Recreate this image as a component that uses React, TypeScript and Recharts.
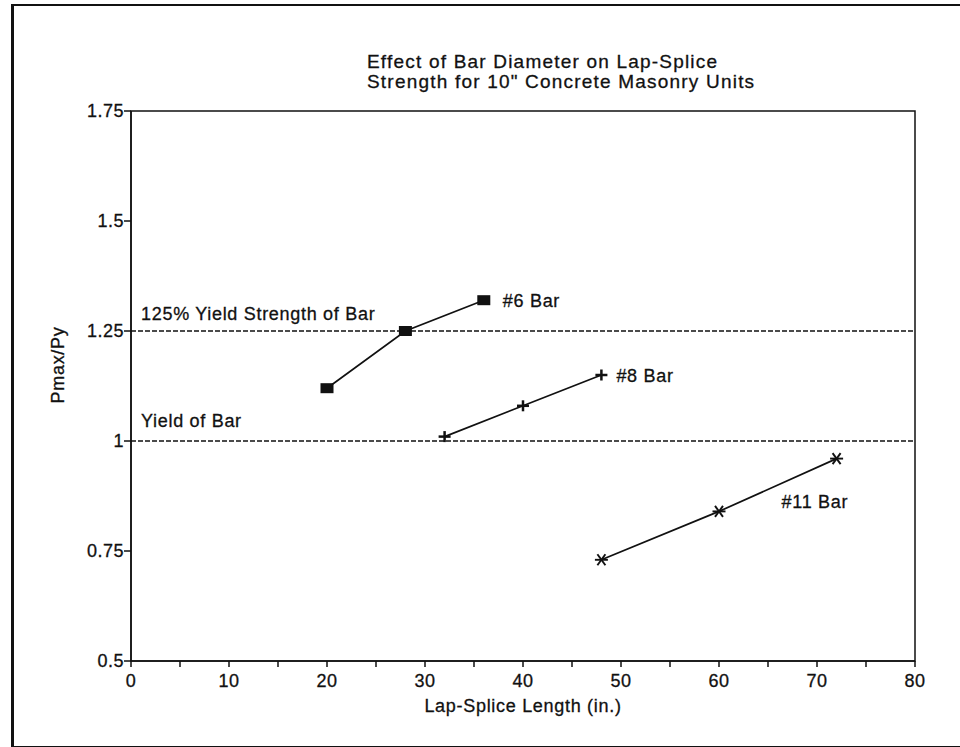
import { Line, LineChart, ReferenceArea, ReferenceLine, XAxis, YAxis } from 'recharts';

// lap-splice length (in.) and Pmax/Py for each bar size
const LENGTH_6 = [20, 28, 36];
const RATIO_6 = [1.12, 1.25, 1.32];
const LENGTH_8 = [32, 40, 48];
const RATIO_8 = [1.01, 1.08, 1.15];
const LENGTH_11 = [48, 60, 72];
const RATIO_11 = [0.73, 0.84, 0.96];

const X_TICKS = [0, 5, 10, 15, 20, 25, 30, 35, 40, 45, 50, 55, 60, 65, 70, 75, 80];
const Y_TICKS = [0.5, 0.75, 1, 1.25, 1.5, 1.75];

const YIELD = 1;
const YIELD_125 = 1.25;

const INK = '#111';
const FONT = '"Liberation Sans", Arial, Helvetica, sans-serif';

const toRows = (xs: number[], ys: number[]) => xs.map((x, i) => ({ x, y: ys[i] }));

const bar6 = toRows(LENGTH_6, RATIO_6);
const bar8 = toRows(LENGTH_8, RATIO_8);
const bar11 = toRows(LENGTH_11, RATIO_11);

// scanned print looks heavy, so give the text a thin outline
const textStyle = {
  fontFamily: FONT,
  fontSize: 18,
  letterSpacing: 0.7,
  fill: INK,
  stroke: INK,
  strokeWidth: 0.3,
};

function SquareDot({ cx, cy }: any) {
  if (cx == null || cy == null) return null;
  return <rect x={cx - 6.5} y={cy - 5} width={13} height={10} fill={INK} />;
}

function PlusDot({ cx, cy }: any) {
  if (cx == null || cy == null) return null;
  return (
    <g stroke={INK} strokeWidth={2.5}>
      <line x1={cx - 6} y1={cy} x2={cx + 6} y2={cy} />
      <line x1={cx} y1={cy - 5.5} x2={cx} y2={cy + 5.5} />
    </g>
  );
}

function StarDot({ cx, cy }: any) {
  if (cx == null || cy == null) return null;
  return (
    <g stroke={INK} strokeWidth={1.9}>
      <line x1={cx - 6.5} y1={cy} x2={cx + 6.5} y2={cy} />
      <line x1={cx - 4} y1={cy - 5.5} x2={cx + 4} y2={cy + 5.5} />
      <line x1={cx - 4} y1={cy + 5.5} x2={cx + 4} y2={cy - 5.5} />
    </g>
  );
}

// label next to the last point of a series
const endLabel = (text: string, count: number, dx: number, dy: number) => (p: any) => {
  if (p.index !== count - 1) return null;
  return (
    <text x={p.x + dx} y={p.y + dy} dominantBaseline="central" {...textStyle}>
      {text}
    </text>
  );
};

const lineLabel = (text: string, dy: number) => (p: any) => {
  const vb = p.viewBox || {};
  return (
    <text x={vb.x + 10} y={vb.y + dy} {...textStyle}>
      {text}
    </text>
  );
};

export default function App() {
  return (
    <div style={{ position: 'absolute', left: 0, top: 0, width: 960, height: 747, background: '#fff' }}>
      <div
        style={{
          position: 'absolute',
          left: 11,
          top: 4,
          width: 960,
          height: 740,
          borderLeft: `3px solid ${INK}`,
          borderTop: `2px solid ${INK}`,
          borderBottom: `2px solid ${INK}`,
        }}
      />
      <div
        style={{
          position: 'absolute',
          left: 367,
          top: 52,
          fontFamily: FONT,
          fontSize: 19,
          letterSpacing: 1.2,
          lineHeight: '20px',
          color: INK,
          WebkitTextStroke: '0.3px #111',
          whiteSpace: 'nowrap',
        }}
      >
        Effect of Bar Diameter on Lap-Splice
        <br />
        Strength for 10" Concrete Masonry Units
      </div>
      <LineChart
        width={960}
        height={747}
        margin={{ top: 111, right: 45, bottom: 26, left: 0 }}
        style={{ position: 'absolute', left: 0, top: 0 }}
      >
        <XAxis
          type="number"
          dataKey="x"
          domain={[0, 80]}
          ticks={X_TICKS}
          interval={0}
          tickFormatter={(v: number) => (v % 10 === 0 ? String(v) : '')}
          height={60}
          tickSize={6}
          tickMargin={7}
          stroke={INK}
          strokeWidth={1.5}
          tick={{ ...textStyle, letterSpacing: 0.5 }}
          label={{
            value: 'Lap-Splice Length  (in.)',
            position: 'insideBottom',
            offset: 9,
            style: { ...textStyle, whiteSpace: 'pre' },
          }}
        />
        <YAxis
          type="number"
          dataKey="y"
          domain={[0.5, 1.75]}
          ticks={Y_TICKS}
          interval={0}
          width={131}
          tickSize={7}
          tickMargin={0}
          stroke={INK}
          strokeWidth={1.5}
          tick={{ ...textStyle, letterSpacing: 0.5 }}
          label={() => (
            <text x={58} y={365} transform="rotate(-90 58 365)" textAnchor="middle" dominantBaseline="central" {...textStyle}>
              Pmax/Py
            </text>
          )}
        />
        <ReferenceArea x1={0} x2={80} y1={0.5} y2={1.75} fill="none" stroke={INK} strokeWidth={1.5} />
        <ReferenceLine
          y={YIELD_125}
          stroke={INK}
          strokeWidth={1.4}
          strokeDasharray="5 2"
          label={lineLabel('125% Yield Strength of Bar', -11.5)}
        />
        <ReferenceLine
          y={YIELD}
          stroke={INK}
          strokeWidth={1.4}
          strokeDasharray="5 2"
          label={lineLabel('Yield of Bar', -14.5)}
        />
        <Line
          data={bar6}
          dataKey="y"
          stroke={INK}
          strokeWidth={1.7}
          dot={<SquareDot />}
          isAnimationActive={false}
          label={endLabel('#6 Bar', bar6.length, 19, 1)}
        />
        <Line
          data={bar8}
          dataKey="y"
          stroke={INK}
          strokeWidth={1.7}
          dot={<PlusDot />}
          isAnimationActive={false}
          label={endLabel('#8 Bar', bar8.length, 15, 1)}
        />
        <Line
          data={bar11}
          dataKey="y"
          stroke={INK}
          strokeWidth={1.7}
          dot={<StarDot />}
          isAnimationActive={false}
          label={endLabel('#11 Bar', bar11.length, -55, 43)}
        />
      </LineChart>
    </div>
  );
}
